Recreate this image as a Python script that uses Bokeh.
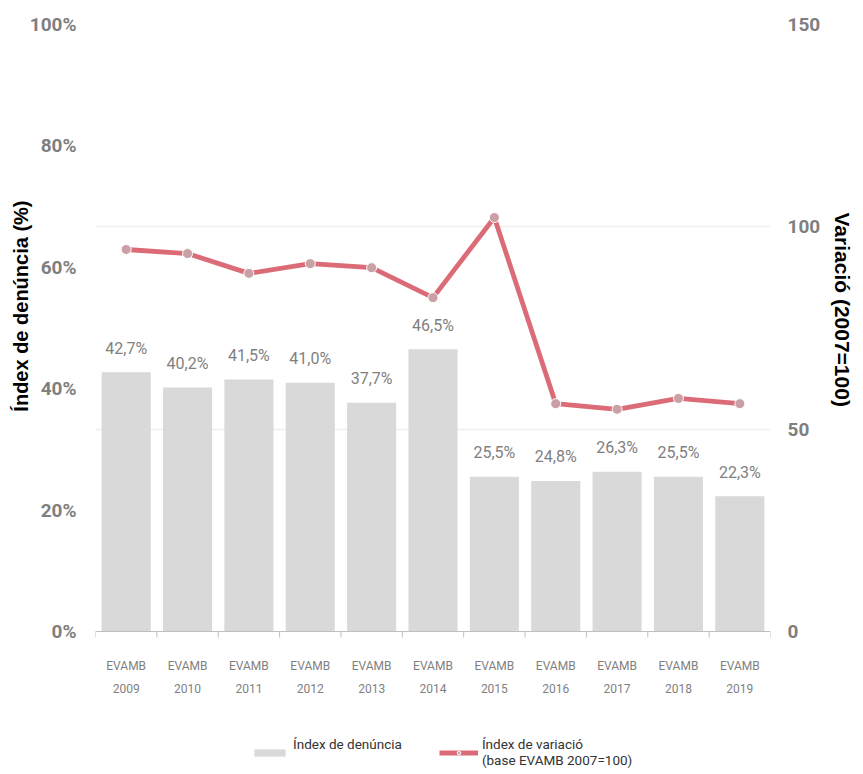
import math
from bokeh.plotting import figure
from bokeh.models import (Range1d, LinearAxis, FixedTicker, NumeralTickFormatter,
                          Legend, LegendItem, ColumnDataSource, Span, Title)
from bokeh.core.properties import value
from bokeh.embed import file_html
from bokeh.resources import INLINE

# ---- data ----
editions = ["EVAMB", "EVAMB", "EVAMB", "EVAMB", "EVAMB", "EVAMB",
            "EVAMB", "EVAMB", "EVAMB", "EVAMB", "EVAMB"]
years = ["2009", "2010", "2011", "2012", "2013", "2014",
         "2015", "2016", "2017", "2018", "2019"]
denuncia = [0.427, 0.402, 0.415, 0.410, 0.377, 0.465,
            0.255, 0.248, 0.263, 0.255, 0.223]
variacio = [94.4, 93.4, 88.5, 90.9, 89.9, 82.5,
            102.3, 56.3, 54.9, 57.6, 56.3]
left_ticks = [0, 0.2, 0.4, 0.6, 0.8, 1.0]
right_ticks = [0, 50, 100, 150]

FONT = "Roboto"
BOLD_TITLE = "Liberation Sans"

n = len(years)
centers = [i + 0.5 for i in range(n)]
bounds = [i for i in range(n + 1)]
labels = [("%.1f%%" % (v * 100)).replace(".", ",") for v in denuncia]

src = ColumnDataSource(dict(x=centers, den=denuncia, var=variacio, lab=labels,
                            ed=editions, yr=years, zero=[0] * n))
bsrc = ColumnDataSource(dict(x=bounds, zero=[0] * (n + 1)))

# the plotting frame reaches the bottom of the page so that the category
# labels and the legend (drawn under the zero line) are not clipped
H, TOP, ZERO_PX = 774, 24, 631
below = (H - ZERO_PX) / (ZERO_PX - TOP)   # part of the scale under zero
p = figure(width=863, height=H, output_backend="svg", toolbar_location=None,
           x_range=Range1d(0, n), y_range=Range1d(-below, 1.0),
           min_border_left=95, min_border_right=93, min_border_top=TOP,
           min_border_bottom=0)
p.outline_line_color = None
p.background_fill_color = "white"
p.border_fill_color = "white"

p.extra_y_ranges = {"right": Range1d(-below * 150, 150)}

# grid (follows the secondary axis ticks)
p.xgrid.visible = False
p.ygrid.ticker = FixedTicker(ticks=[v / 150 for v in right_ticks[1:]])
p.ygrid.grid_line_color = "#EEEEEE"
p.ygrid.grid_line_width = 1.5

# bars
bars = p.vbar(x="x", top="den", bottom=0, width=0.8, source=src,
              fill_color="#D9D9D9", line_color=None)

# bar labels
p.text(x="x", y="den", text="lab", source=src, text_align="center",
       text_baseline="middle", y_offset=-24, text_color="#7F7F7F",
       text_font=value(FONT), text_font_size="16px")

# line
ln = p.line(x="x", y="var", source=src, y_range_name="right",
            line_color="#DB6C77", line_width=4.8)
pts = p.scatter(x="x", y="var", source=src, y_range_name="right",
                size=10, fill_color="#C9A0A5", line_color="white", line_width=1)

# category axis: zero line, boundary ticks, two-line labels
p.add_layout(Span(location=0, dimension="width", line_color="#BFBFBF", line_width=1))
p.ray(x="x", y="zero", source=bsrc, length=6, length_units="screen",
      angle=-math.pi / 2, line_color="#BFBFBF", line_width=1)
p.text(x="x", y="zero", text="ed", source=src, text_align="center",
       text_baseline="middle", y_offset=34, text_color="#7F7F7F",
       text_font=value(FONT), text_font_size="12px")
p.text(x="x", y="zero", text="yr", source=src, text_align="center",
       text_baseline="middle", y_offset=57, text_color="#7F7F7F",
       text_font=value(FONT), text_font_size="12px")
p.xaxis.visible = False

# left axis
ya = p.yaxis[0]
ya.ticker = FixedTicker(ticks=left_ticks)
ya.formatter = NumeralTickFormatter(format="0%")
ya.axis_line_color = None
ya.major_tick_line_color = None
ya.minor_tick_line_color = None
ya.major_tick_out = 0
ya.major_label_standoff = 19
ya.major_label_text_font = FONT
ya.major_label_text_font_style = "bold"
ya.major_label_text_font_size = "19px"
ya.major_label_text_color = "#7F7F7F"

p.add_layout(Title(text="Índex de denúncia (%)", align="right", offset=176,
                   standoff=-10, text_font=BOLD_TITLE, text_font_style="bold",
                   text_font_size="20px", text_color="#000000"), "left")

# right axis
ra = LinearAxis(y_range_name="right", ticker=FixedTicker(ticks=right_ticks))
ra.axis_line_color = None
ra.major_tick_line_color = None
ra.minor_tick_line_color = None
ra.major_tick_out = 0
ra.major_label_standoff = 17
ra.major_label_text_font = FONT
ra.major_label_text_font_style = "bold"
ra.major_label_text_font_size = "19px"
ra.major_label_text_color = "#7F7F7F"
p.add_layout(ra, "right")

p.add_layout(Title(text="Variació  (2007=100)", align="left", offset=188,
                   standoff=14, text_font=BOLD_TITLE, text_font_style="bold",
                   text_font_size="21px", text_color="#000000"), "right")

legend = Legend(items=[
    LegendItem(label="Índex de denúncia\n\u00a0", renderers=[bars]),
    LegendItem(label="Índex de variació\n(base EVAMB 2007=100)", renderers=[ln, pts]),
], orientation="horizontal", location=(155, 6), border_line_color=None,
    background_fill_alpha=0, glyph_width=39, glyph_height=9, spacing=37,
    label_standoff=4, padding=4, margin=0,
    label_text_font=FONT, label_text_font_size="13.5px", label_text_color="#333333")
p.add_layout(legend, "center")

open("out.html", "w").write(file_html(p, INLINE))
